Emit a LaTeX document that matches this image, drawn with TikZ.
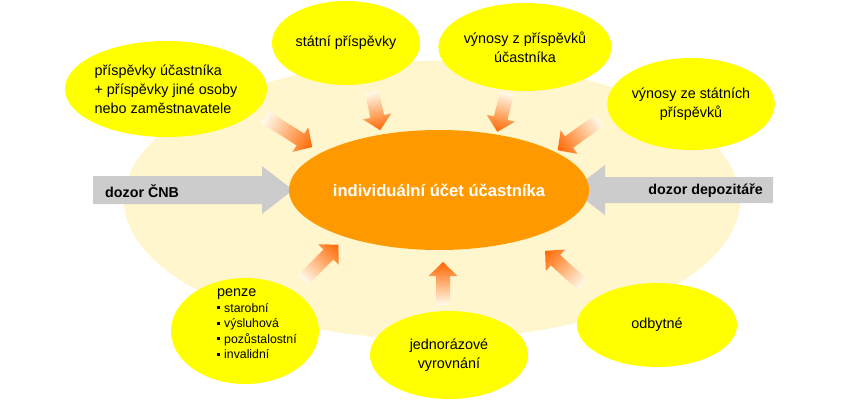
\documentclass[tikz,border=0pt]{standalone}
\usepackage{fontspec}
\setmainfont{Liberation Sans}
\usetikzlibrary{shapes.geometric, calc}
\definecolor{halofill}{RGB}{255,246,206}
\definecolor{corefill}{RGB}{255,153,0}
\definecolor{flowcol}{RGB}{255,102,0}
\definecolor{bubblefill}{RGB}{255,255,0}
\definecolor{guardfill}{RGB}{204,204,204}
\newcommand{\itm}{\rule[3pt]{3pt}{3pt}\hspace{4pt}}
% fat arrow from tail #1, pointing at angle #2, length #3
\newcommand{\flow}[3]{%
  \begin{scope}[transform canvas={shift={(#1)}, rotate=#2}]
    \shade[flowarrow] (0,-7) -- (#3-14,-7) -- (#3-14,-14.5) -- (#3,0)
      -- (#3-14,14.5) -- (#3-14,7) -- (0,7) -- cycle;
  \end{scope}}

\begin{document}
\begin{tikzpicture}[
  x=1pt, y=-1pt,
  bubble/.style={
    ellipse, fill=bubblefill, inner sep=0pt, align=center,
    font=\fontsize{14.4}{19}\selectfont
  },
  core/.style={
    ellipse, fill=corefill, inner sep=0pt, minimum width=282pt, minimum height=120pt,
    text=white, font=\fontsize{16.6}{20}\selectfont\bfseries
  },
  guardarrow/.style={fill=guardfill},
  guardlabel/.style={inner sep=0pt, font=\fontsize{14.3}{17}\selectfont\bfseries},
  flowarrow/.style={left color=halofill!40!white, middle color=flowcol!90!white,
    right color=flowcol},
]
\useasboundingbox (0,0) rectangle (860,400);

% --- halo and core ---
\node[ellipse, fill=halofill, inner sep=0pt, minimum width=616pt, minimum height=278pt]
  (halo) at (432,200) {};

% --- supervision arrows ---
\coordinate (cnbtail) at (93,190);
\coordinate (depotail) at (773,190);
\fill[guardarrow] (cnbtail) ++(0,-14) -- ++(169,0) -- ++(0,-10) -- ++(31,24)
  -- ++(-31,24) -- ++(0,-10) -- ++(-169,0) -- cycle;
\fill[guardarrow] (depotail) ++(0,-13) -- ++(-168,0) -- ++(0,-12) -- ++(-33,25)
  -- ++(33,25) -- ++(0,-12) -- ++(168,0) -- cycle;
\node[guardlabel, anchor=west] (cnb) at (105,191) {dozor ČNB};
\node[guardlabel, anchor=east] (depo) at (763,191) {dozor depozitáře};

\node[core] (account) at (439,190) {individuální účet účastníka};

% --- inflows and outflows ---
\coordinate (memberT) at (265,117);
\coordinate (stateT) at (372,92);
\coordinate (yieldT) at (507,93);
\coordinate (syieldT) at (600,120);
\coordinate (pensionT) at (303,280);
\coordinate (lumpT) at (443,305);
\coordinate (surrT) at (583,285);
\flow{memberT}{-32.5}{56}
\flow{stateT}{-78}{39}
\flow{yieldT}{-104}{40}
\flow{syieldT}{-144.5}{52}
\flow{pensionT}{45}{50}
\flow{lumpT}{90}{43}
\flow{surrT}{138}{51}

% --- bubbles ---
\node[bubble, align=left, minimum width=184pt, minimum height=96pt] (member) at (166,89)
  {příspěvky účastníka\\+ příspěvky jiné osoby\\nebo zaměstnavatele};
\node[bubble, minimum width=148pt, minimum height=84pt] (state) at (346,43) {státní příspěvky};
\node[bubble, minimum width=150pt, minimum height=88pt] (yield) at (525,47)
  {výnosy z příspěvků\\účastníka};
\node[bubble, minimum width=158pt, minimum height=92pt] (syield) at (691,104)
  {výnosy ze státních\\příspěvků};
\node[bubble, minimum width=160pt, minimum height=84pt] (surrender) at (657,325) {odbytné};
\node[bubble, minimum width=158pt, minimum height=88pt] (lump) at (449,355)
  {jednorázové\\vyrovnání};
\node[bubble, minimum width=148pt, minimum height=106pt] (pension) at (245,331) {};
\node[anchor=north west, align=left, inner sep=0pt, font=\fontsize{12.3}{15.5}\selectfont]
  (pensionlist) at (217,289)
  {{\fontsize{14.4}{17}\selectfont penze}\\
   \itm starobní\\ \itm výsluhová\\ \itm pozůstalostní\\ \itm invalidní};

\end{tikzpicture}
\end{document}
